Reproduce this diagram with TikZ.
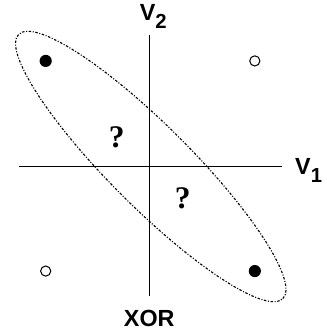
\documentclass[tikz,border=0pt]{standalone}
\usepackage{fontspec}
\setmainfont{Liberation Sans}
\newfontfamily\qfont{Liberation Serif}
\usetikzlibrary{positioning}

\begin{document}
\begin{tikzpicture}[x=1pt, y=1pt,
    axis/.style={line width=1.1pt},
    lbl/.style={font=\fontsize{23}{23}\selectfont\bfseries, inner sep=0pt},
    qmark/.style={font=\fontsize{31}{31}\selectfont\qfont\bfseries, inner sep=0pt},
    full/.style={circle, fill=black, inner sep=0pt, minimum size=12pt},
    empty/.style={circle, draw=black, line width=1pt, fill=white, inner sep=0pt, minimum size=10pt},
    group/.style={line width=1.1pt, dash pattern=on 2.4pt off 1.6pt on 1pt off 1.6pt}]
  \useasboundingbox (-147,-164) rectangle (175,164);
  % axes
  \coordinate (top) at (0,130);
  \coordinate (bot) at (0,-128);
  \coordinate (left) at (-128,0);
  \coordinate (right) at (131,0);
  \draw[axis] (top) -- (bot);
  \draw[axis] (left) -- (right);
  \node[lbl] (V2) at (4,148) {V\raisebox{-8pt}{\fontsize{20}{20}\selectfont 2}};
  \node[lbl] (V1) at (157,-4) {V\raisebox{-8pt}{\fontsize{20}{20}\selectfont 1}};
  \node[lbl] (xor) at (0,-149.5) {XOR};
  % the four points
  \node[full] (p01) at (-102,104) {};
  \node[empty] (p11) at (104,104) {};
  \node[empty] (p00) at (-102,-103) {};
  \node[full] (p10) at (104,-103) {};
  % unknown regions
  \node[qmark] (q1) at (-32,29) {?};
  \node[qmark] (q2) at (33,-31) {?};
  % grouping of the two filled points
  \draw[group, rotate around={-45:(1.5,0)}] (1.5,0) ellipse (184 and 40);
\end{tikzpicture}
\end{document}
